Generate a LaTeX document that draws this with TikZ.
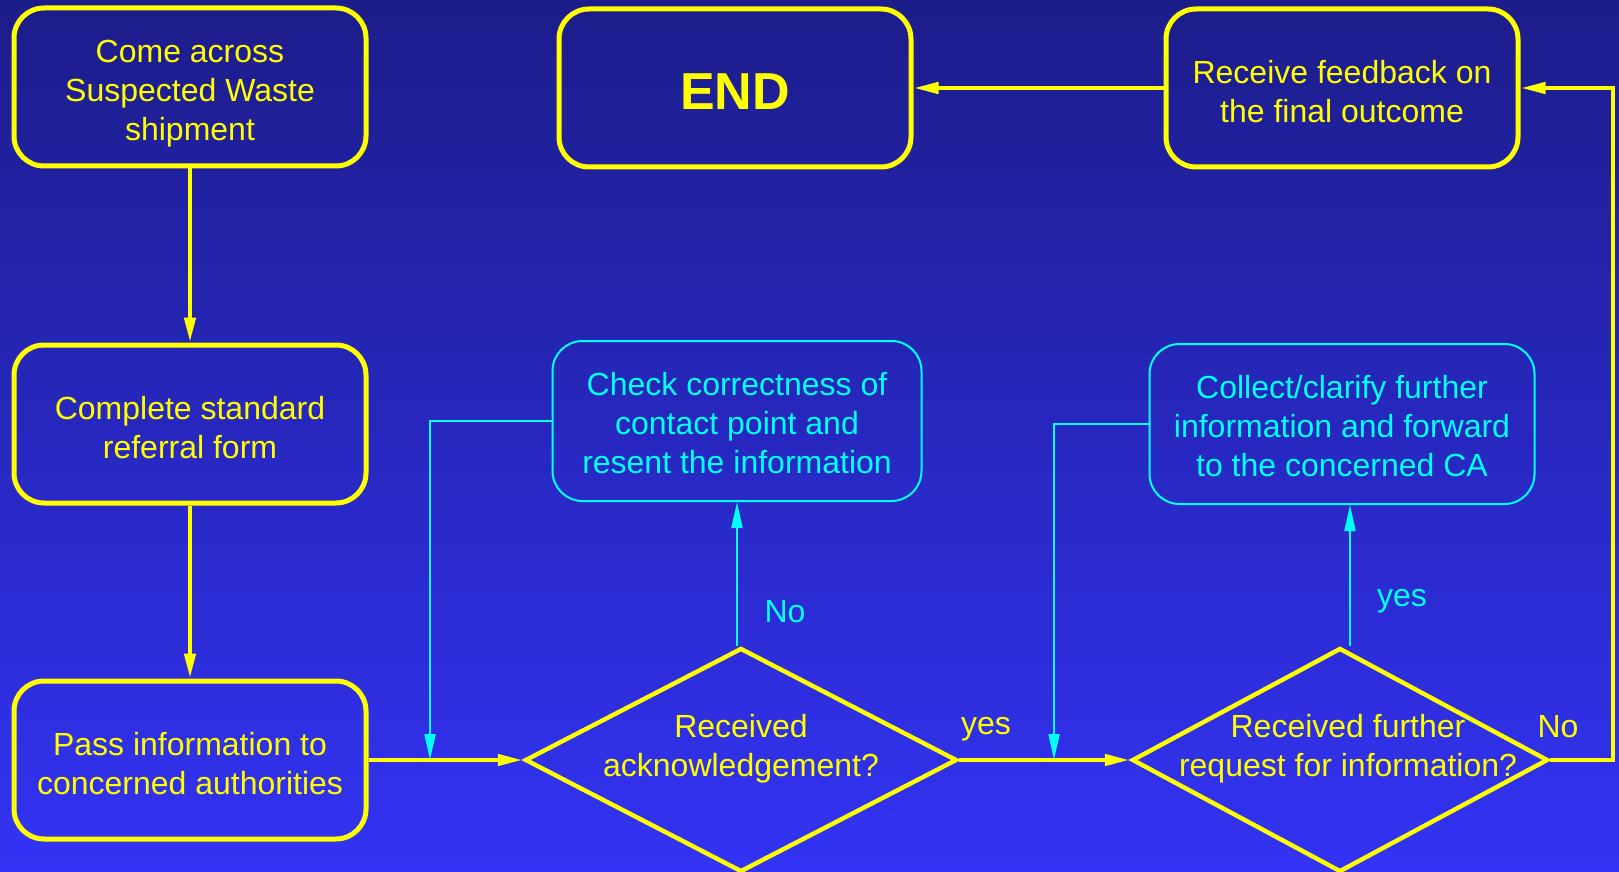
\documentclass[tikz,border=0pt]{standalone}
\usepackage{fontspec}
\setmainfont{Liberation Sans}
\usetikzlibrary{shapes.geometric,arrows.meta}

\definecolor{bgtop}{RGB}{28,28,138}
\definecolor{bgbot}{RGB}{51,51,245}
\definecolor{ylw}{RGB}{255,255,0}
\definecolor{cyn}{RGB}{0,255,255}

\begin{document}
\begin{tikzpicture}[x=0.5pt,y=-0.5pt,
  every node/.style={font=\fontsize{16}{19.5}\selectfont, align=center},
  ybox/.style={draw=ylw, line width=2.5pt, rounded corners=15pt, text=ylw,
    inner sep=0pt, minimum width=176pt, minimum height=79pt, text height=34.2pt},
  cbox/.style={draw=cyn, line width=1pt, rounded corners=15pt, text=cyn,
    inner sep=0pt, minimum height=80pt, text height=52.7pt},
  decision/.style={diamond, draw=ylw, line width=2.2pt, inner sep=0pt,
    minimum height=112pt},
  yarrow/.style={draw=ylw, line width=2.2pt, -{Triangle[length=12.5pt,width=5.5pt]}},
  carrow/.style={draw=cyn, line width=1pt, -{Triangle[length=13pt,width=5.5pt]}},
  ylbl/.style={text=ylw},
  clbl/.style={text=cyn}]

% background
\shade[top color=bgtop, bottom color=bgbot] (0,0) rectangle (1619,872);
\useasboundingbox (0,0) rectangle (1619,872);

% left column
\node[ybox, text height=57.2pt] (come) at (190,87) {Come across\\Suspected Waste\\shipment};
\node[ybox] (form) at (190,424) {Complete standard\\referral form};
\node[ybox] (pass) at (190,760) {Pass information to\\concerned authorities};

% top row
\node[ybox, text height=22pt] (end) at (735,88)
  {\fontsize{26}{30}\selectfont\bfseries END};
\node[ybox] (feed) at (1342,88) {Receive feedback on\\the final outcome};

% middle row
\node[cbox, minimum width=184.5pt] (check) at (737,421)
  {Check correctness of\\contact point and\\resent the information};
\node[cbox, minimum width=192.5pt] (clarify) at (1342,424)
  {Collect/clarify further\\information and forward\\to the concerned CA};

% decisions
\node[decision, minimum width=216pt,
  label={[ylbl,yshift=5.5pt]center:Received\\acknowledgement?}] (ack) at (741,760) {};
\node[decision, minimum width=208pt,
  label={[ylbl,yshift=5.5pt,xshift=4pt]center:Received further\\request for information?}] (req) at (1340,760) {};

\coordinate (j1) at (430,760);
\coordinate (j2) at (1054,760);
\coordinate (back) at (1613,88);

% labels
\node[clbl] (no1) at (785,612) {No};
\node[ylbl] (yes1) at (986,729) {yes};
\node[clbl] (yes2) at (1402,601) {yes};
\node[ylbl] (no2) at (1558,727) {No};

% yellow flow
\draw[yarrow] (come) -- (form);
\draw[yarrow] (form) -- (pass);
\draw[yarrow] (pass) -- (ack);
\draw[yarrow] (ack) -- (req);
\draw[yarrow] (req.east) -| (back) -- (feed.east);
\draw[yarrow] (feed) -- (end);

% cyan loops
\draw[carrow] (check.south |- ack.north) -- (check.south);
\draw[carrow] ([xshift=5pt]req.north) -- ([xshift=5pt]req.north |- clarify.south);
\draw[carrow] (check.west) -| (j1);
\draw[carrow] (clarify.west) -| (j2);

\end{tikzpicture}
\end{document}
